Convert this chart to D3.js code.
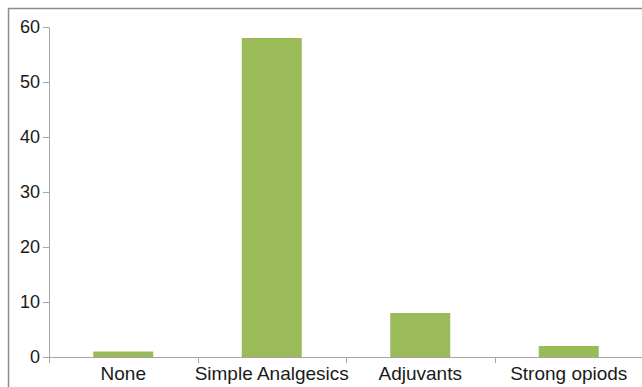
<!DOCTYPE html>
<html>
<head>
<meta charset="utf-8" />
<script src="https://d3js.org/d3.v7.min.js"></script>
<style>
  body { margin: 0; background: #fff; }
  svg { display: block; font-family: "Liberation Sans", Arial, sans-serif; }
</style>
</head>
<body>
<div id="visu"></div>
<script>
// données du graphique
const categories = ["None", "Simple Analgesics", "Adjuvants", "Strong opiods"];
const valeurs = [1, 58, 8, 2];
const yTicks = [0, 10, 20, 30, 40, 50, 60];

const width = 642, height = 387;
const margin = { left: 49, top: 27, right: 0, bottom: 30 };
const axisColor = "#a6a6a6";
const bandW = 148.5;

const svg = d3.select("#visu").append("svg")
  .attr("width", width)
  .attr("height", height);

// cadre
svg.append("rect")
  .attr("x", 8.5).attr("y", 8.5)
  .attr("width", width + 20).attr("height", height + 20)
  .attr("fill", "none")
  .attr("stroke", "#8c8c8c")
  .attr("stroke-width", 1.5);

const x = d3.scaleBand()
  .domain(categories)
  .range([margin.left, margin.left + categories.length * bandW])
  .paddingInner(0.596)
  .paddingOuter(0.298);

const y = d3.scaleLinear()
  .domain([0, 60])
  .range([357, margin.top]);

// barres
svg.selectAll("rect.bar")
  .data(valeurs)
  .enter().append("rect")
  .attr("class", "bar")
  .attr("x", (d, i) => x(categories[i]))
  .attr("y", d => y(d))
  .attr("width", x.bandwidth())
  .attr("height", d => y(0) - y(d))
  .attr("fill", "#9bbb59");

// axe Y
const yAxis = svg.append("g")
  .attr("transform", `translate(${margin.left},0)`)
  .call(d3.axisLeft(y).tickValues(yTicks).tickSize(6).tickSizeOuter(0).tickPadding(3));

// axe X avec graduations entre catégories
const bornes = d3.range(categories.length + 1).map(i => margin.left + i * bandW);

const xg = svg.append("g");
xg.append("line")
  .attr("x1", margin.left).attr("x2", width)
  .attr("y1", y(0) + 0.5).attr("y2", y(0) + 0.5)
  .attr("stroke", axisColor);
xg.selectAll("line.tick")
  .data(bornes)
  .enter().append("line")
  .attr("class", "tick")
  .attr("x1", d => Math.round(d) + 0.5).attr("x2", d => Math.round(d) + 0.5)
  .attr("y1", y(0)).attr("y2", y(0) + 6)
  .attr("stroke", axisColor);
xg.selectAll("text")
  .data(categories)
  .enter().append("text")
  .attr("x", d => x(d) + x.bandwidth() / 2)
  .attr("y", 380)
  .attr("text-anchor", "middle")
  .style("font-size", "19px")
  .attr("fill", "#1a1a1a")
  .text(d => d);

yAxis.select(".domain").attr("stroke", axisColor);
yAxis.selectAll(".tick line").attr("stroke", axisColor);
yAxis.selectAll(".tick text")
  .style("font-size", "18px")
  .attr("fill", "#1a1a1a");
</script>
</body>
</html>
